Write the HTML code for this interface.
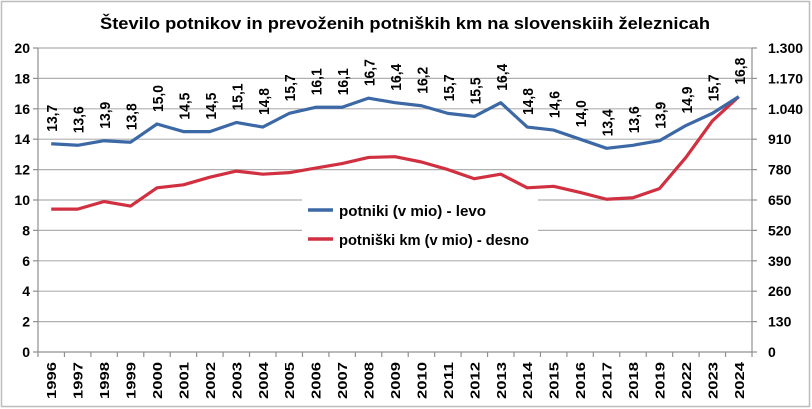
<!DOCTYPE html>
<html><head><meta charset="utf-8"><style>
html,body{margin:0;padding:0;background:#fff}
svg{display:block}
text{font-family:"Liberation Sans",sans-serif;font-weight:bold;fill:#000}
</style></head><body>
<svg width="812" height="409" xmlns="http://www.w3.org/2000/svg">
<rect x="1.5" y="1.5" width="808" height="405" fill="#fff" stroke="#bdbdbd" stroke-width="1.5"/>
<text x="405" y="29" font-size="17" text-anchor="middle" textLength="610" lengthAdjust="spacingAndGlyphs">Število potnikov in prevoženih potniških km na slovenskiih železnicah</text>
<g id="grid" stroke="#b0b0b0" stroke-width="1.2"></g>
<g id="ax" stroke="#909090" stroke-width="1.2"></g>
<g id="yl" font-size="14"></g>
<g id="xl" font-size="13"></g>
<polyline id="red" fill="none" stroke="#d03040" stroke-width="3.2" stroke-linejoin="round"/>
<polyline id="blue" fill="none" stroke="#3c69a6" stroke-width="3.2" stroke-linejoin="round"/>
<g id="dl" font-size="15"></g>
<rect x="302" y="197" width="236" height="54" fill="#fff"/>
<line x1="308" y1="210" x2="333" y2="210" stroke="#3c69a6" stroke-width="3.5"/>
<line x1="308" y1="239" x2="333" y2="239" stroke="#d03040" stroke-width="3.5"/>
<text x="339" y="216" font-size="15" textLength="147" lengthAdjust="spacingAndGlyphs">potniki (v mio) - levo</text>
<text x="339" y="245" font-size="15" textLength="190" lengthAdjust="spacingAndGlyphs">potniški km (v mio) - desno</text>
</svg>
<script>
const NS="http://www.w3.org/2000/svg";
const L=38,R=752,T=48,B=352;
const yr=[1996,1997,1998,1999,2000,2001,2002,2003,2004,2005,2006,2007,2008,2009,2010,2011,2012,2013,2014,2015,2016,2017,2018,2019,2022,2023,2024];
const bl=[13.7,13.6,13.9,13.8,15.0,14.5,14.5,15.1,14.8,15.7,16.1,16.1,16.7,16.4,16.2,15.7,15.5,16.4,14.8,14.6,14.0,13.4,13.6,13.9,14.9,15.7,16.8];
const rd=[9.4,9.4,9.9,9.6,10.8,11.0,11.5,11.9,11.7,11.8,12.1,12.4,12.8,12.85,12.5,12.0,11.4,11.7,10.8,10.9,10.5,10.05,10.15,10.75,12.8,15.2,16.8];
const w=(R-L)/27;
const X=i=>L+w*(i+0.5), Y=v=>B-(v/20)*(B-T);
function el(t,a,p,txt){const e=document.createElementNS(NS,t);for(const k in a)e.setAttribute(k,a[k]);if(txt!=null)e.textContent=txt;document.getElementById(p).appendChild(e);return e;}
const rl=["0","130","260","390","520","650","780","910","1.040","1.170","1.300"];
for(let k=0;k<=10;k++){const y=Y(k*2);
 if(k>0)el("line",{x1:L,y1:y,x2:R,y2:y},"grid");
 el("line",{x1:L-5,y1:y,x2:L,y2:y},"ax");el("line",{x1:R,y1:y,x2:R+5,y2:y},"ax");
 el("text",{x:L-8,y:y+5,"text-anchor":"end"},"yl",String(k*2));
 el("text",{x:R+16,y:y+5},"yl",rl[k]);}
el("line",{x1:L,y1:T,x2:L,y2:B},"ax");el("line",{x1:R,y1:T,x2:R,y2:B},"ax");
el("line",{x1:L,y1:B,x2:R,y2:B},"ax");
for(let i=0;i<=27;i++){const x=L+w*i;el("line",{x1:x,y1:B,x2:x,y2:B+5},"ax");}
yr.forEach((y,i)=>{const x=X(i)+5;el("text",{x:x,y:362,transform:`rotate(-90 ${x} 362)`,"text-anchor":"end",textLength:37,lengthAdjust:"spacingAndGlyphs"},"xl",String(y));});
document.getElementById("blue").setAttribute("points",bl.map((v,i)=>X(i)+","+Y(v)).join(" "));
document.getElementById("red").setAttribute("points",rd.map((v,i)=>X(i)+","+Y(v)).join(" "));
bl.forEach((v,i)=>{const x=X(i)+6,y=Y(v)-12;el("text",{x:x,y:y,transform:`rotate(-90 ${x} ${y})`,textLength:27,lengthAdjust:"spacingAndGlyphs"},"dl",v.toFixed(1).replace(".",","));});
</script>
</body></html>
